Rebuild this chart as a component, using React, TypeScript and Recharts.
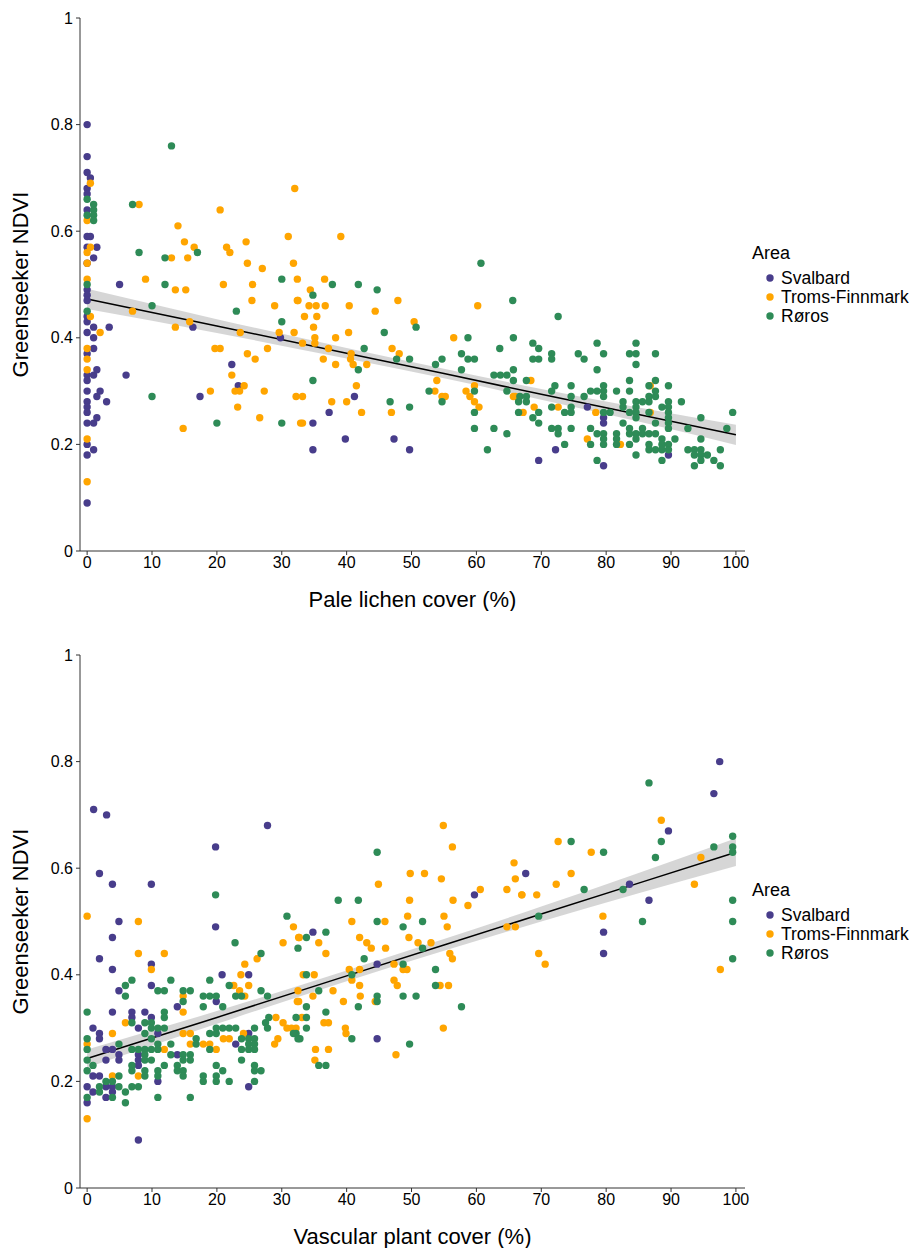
import React from 'react';
import { ComposedChart, Scatter, Area, Line, XAxis, YAxis } from 'recharts';

const FONT = '"Liberation Sans", Arial, Helvetica, sans-serif';

const areaNames = ['Svalbard', 'Troms-Finnmark', 'Røros'];
const areaColors = ['#483D8B', '#FFA500', '#2E8B57'];
const xTicks = [0, 10, 20, 30, 40, 50, 60, 70, 80, 90, 100];
const yTicks = [0, 0.2, 0.4, 0.6, 0.8, 1];

type Pt = [number, number];

// --- Pale lichen cover vs NDVI ---
const lichenSvalbard: Pt[] = [
  [0, 0.8], [0, 0.74], [0, 0.71], [0, 0.68], [0, 0.67], [0, 0.64], [0, 0.59], [0, 0.57], [0, 0.54],
  [0, 0.49], [0, 0.48], [0, 0.47], [0, 0.44], [0, 0.43], [0, 0.41], [0, 0.37], [0, 0.33],
  [0, 0.32], [0, 0.3], [0, 0.28], [0, 0.27], [0, 0.26], [0, 0.24], [0, 0.2], [0, 0.18], [0, 0.09],
  [0.5, 0.7], [0.5, 0.59], [1, 0.55], [1, 0.42], [1, 0.4], [1, 0.38], [1, 0.33], [1, 0.24], [1, 0.19],
  [1.5, 0.57], [1.5, 0.34], [1.5, 0.29], [1.5, 0.25], [2, 0.3], [3, 0.28], [3.4, 0.42], [5, 0.5],
  [6, 0.33], [16.3, 0.42], [17.4, 0.29], [22.3, 0.35], [23.3, 0.31], [29.8, 0.4], [34.8, 0.24],
  [34.8, 0.19], [37.3, 0.26], [39.8, 0.21], [41.2, 0.29], [47.3, 0.21], [49.7, 0.19], [69.6, 0.17],
  [72.2, 0.19], [77.1, 0.27], [79.6, 0.25], [79.6, 0.24], [79.6, 0.16], [89.6, 0.18],
];

const lichenTroms: Pt[] = [
  [0, 0.62], [0, 0.56], [0, 0.54], [0, 0.51], [0, 0.38], [0, 0.36], [0, 0.34], [0, 0.21], [0, 0.13],
  [0.5, 0.69], [0.5, 0.57], [0.5, 0.44], [2, 0.41],
  [8, 0.65], [20.5, 0.64], [14, 0.61], [32, 0.68], [15, 0.58], [16.5, 0.57], [21.5, 0.57], [22, 0.56],
  [24.5, 0.58], [31, 0.59], [13, 0.55], [15.5, 0.55], [24.7, 0.54], [27, 0.53], [31.8, 0.54],
  [9, 0.51], [32.4, 0.51], [21, 0.5], [25.5, 0.5], [13.6, 0.49], [15.2, 0.49], [25.4, 0.47],
  [28.9, 0.46], [32.4, 0.47], [7, 0.45], [15.8, 0.43], [13.6, 0.42], [23.6, 0.41], [29.6, 0.41],
  [31.9, 0.41], [19.7, 0.38], [20.5, 0.38], [24.7, 0.37], [25.9, 0.36], [27.8, 0.38], [22.3, 0.33],
  [24.2, 0.31], [19, 0.3], [22.8, 0.3], [23.5, 0.3], [27.3, 0.3], [32.2, 0.29], [23.2, 0.27],
  [26.6, 0.25], [14.8, 0.23], [32.9, 0.24],
  [39.1, 0.59], [36.6, 0.51], [34.4, 0.49], [32.5, 0.47], [34.2, 0.46], [35.3, 0.46], [36.7, 0.46],
  [40.4, 0.46], [47.9, 0.47], [60.2, 0.46], [33.5, 0.44], [35.4, 0.44], [44.4, 0.45], [34.9, 0.42],
  [50.4, 0.43], [40.3, 0.41],
  [56.5, 0.4], [35.1, 0.4], [38.3, 0.4], [33.2, 0.39], [35.1, 0.39], [47, 0.38], [37.2, 0.38],
  [40.7, 0.37], [48.1, 0.37], [36.4, 0.36], [40.6, 0.36], [38.3, 0.35], [41, 0.35], [43.1, 0.35],
  [53.9, 0.32], [41.5, 0.31], [59.7, 0.31], [53.6, 0.3], [58.4, 0.3], [33.2, 0.29], [54.7, 0.29],
  [55.2, 0.29], [59, 0.29], [65.7, 0.29], [37.7, 0.28], [40, 0.28], [59.7, 0.28], [42.3, 0.26],
  [46.9, 0.26], [60.4, 0.27], [33.2, 0.24],
  [66, 0.29], [68.4, 0.32], [68.9, 0.27], [72.6, 0.27], [67.2, 0.26], [78.4, 0.26], [86.8, 0.31],
  [86.8, 0.26], [77.1, 0.21], [82.2, 0.2],
];

const lichenRoros: Pt[] = [
  [0, 0.66], [0, 0.63], [0, 0.5], [0, 0.45], [1, 0.65], [1, 0.64], [1, 0.63], [1, 0.62],
  [13, 0.76], [7, 0.65], [17, 0.56], [8, 0.56], [12, 0.55], [30, 0.51], [12, 0.5], [10, 0.46],
  [23, 0.45], [30, 0.43], [10, 0.29], [20, 0.24], [30, 0.24],
  [60.7, 0.54], [37.8, 0.5], [41.8, 0.5], [34.8, 0.48], [44.7, 0.49], [65.6, 0.47], [50.7, 0.42],
  [45.8, 0.41], [72.6, 0.44],
  [58.7, 0.4], [65.7, 0.4], [42.7, 0.38], [63.6, 0.38], [57.7, 0.37], [47.7, 0.36], [49.7, 0.36],
  [54.7, 0.36], [58.7, 0.36], [59.7, 0.36], [53.7, 0.35], [41.8, 0.34], [57.7, 0.34], [65.7, 0.34],
  [62.7, 0.33], [63.7, 0.33], [64.7, 0.33], [34.8, 0.32], [65.7, 0.32], [52.7, 0.3], [59.7, 0.3],
  [64.7, 0.3], [46.7, 0.28], [54.7, 0.28], [66.5, 0.28], [49.7, 0.27], [59.7, 0.26], [66.5, 0.26],
  [59.7, 0.23], [62.7, 0.23], [64.7, 0.22], [61.7, 0.19],
  [68.7, 0.39], [69.6, 0.38], [68.7, 0.36], [69.6, 0.36], [71.6, 0.37], [71.6, 0.36], [75.7, 0.37],
  [76.6, 0.36], [78.6, 0.39], [79.6, 0.37], [78.6, 0.34], [84.6, 0.39], [83.6, 0.37], [84.6, 0.37],
  [84.6, 0.35], [87.6, 0.37],
  [67.7, 0.32], [72.1, 0.31], [74.6, 0.31], [79.6, 0.31], [83.6, 0.32], [86.6, 0.31], [87.6, 0.32],
  [89.6, 0.31], [71.6, 0.3], [77.6, 0.3], [78.6, 0.3], [79.6, 0.3], [81.6, 0.3], [83.6, 0.3],
  [87.6, 0.3], [66.7, 0.29], [67.7, 0.29], [74.6, 0.29], [76.6, 0.29], [79.6, 0.29], [86.6, 0.29],
  [87.6, 0.29], [67.7, 0.28], [82.6, 0.28], [84.6, 0.28], [85.6, 0.28], [86.6, 0.28], [89.6, 0.28],
  [91.6, 0.28], [71.6, 0.27], [74.6, 0.27], [82.6, 0.27], [84.6, 0.27], [88.6, 0.27], [89.6, 0.27],
  [69.6, 0.26], [73.6, 0.26], [74.6, 0.26], [79.6, 0.26], [80.6, 0.26], [83.6, 0.26], [84.6, 0.26],
  [86.6, 0.26], [89.6, 0.26], [99.5, 0.26], [68.7, 0.25], [84.6, 0.25], [89.6, 0.25], [94.6, 0.25],
  [69.6, 0.24], [82.6, 0.24], [87.6, 0.24], [89.6, 0.24],
  [71.6, 0.23], [72.6, 0.23], [74.6, 0.23], [77.6, 0.23], [83.6, 0.23], [85.6, 0.23], [89.6, 0.23],
  [92.6, 0.23], [98.6, 0.23], [72.6, 0.22], [78.6, 0.22], [79.6, 0.22], [81.6, 0.22], [83.6, 0.22],
  [84.6, 0.22], [85.6, 0.22], [86.6, 0.22], [87.6, 0.22], [79.6, 0.21], [81.6, 0.21], [84.6, 0.21],
  [88.6, 0.21], [90.6, 0.21], [94.6, 0.21], [73.6, 0.2], [77.6, 0.2], [79.6, 0.2], [81.6, 0.2],
  [83.6, 0.2], [86.6, 0.2], [88.6, 0.2], [89.6, 0.2], [86.6, 0.19], [87.6, 0.19], [88.6, 0.19],
  [89.6, 0.19], [92.6, 0.19], [93.6, 0.19], [94.6, 0.19], [97.6, 0.19], [84.6, 0.18], [93.6, 0.18],
  [94.6, 0.18], [95.6, 0.18], [78.6, 0.17], [88.6, 0.17], [94.6, 0.17], [96.6, 0.17], [93.6, 0.16],
  [97.6, 0.16],
];

const lichenFitX = [0, 20, 40, 55, 70, 85, 100];
const lichenFit = [0.473, 0.422, 0.371, 0.333, 0.294, 0.256, 0.218];
const lichenLow = [0.454, 0.409, 0.361, 0.324, 0.284, 0.243, 0.199];
const lichenHigh = [0.492, 0.435, 0.381, 0.342, 0.304, 0.269, 0.237];

// --- Vascular plant cover vs NDVI ---
const vascSvalbard: Pt[] = [
  [1, 0.71], [3, 0.7], [27.8, 0.68], [19.8, 0.64], [1.9, 0.59], [3.9, 0.57], [9.9, 0.57], [4.9, 0.5],
  [19.8, 0.49], [3.9, 0.47], [1.9, 0.43], [34.8, 0.48], [59.7, 0.55], [97.5, 0.8], [96.6, 0.74],
  [89.6, 0.67], [67.6, 0.59], [83.6, 0.57], [86.6, 0.54], [79.6, 0.48], [79.6, 0.44], [44.7, 0.42],
  [44.7, 0.28],
  [9.9, 0.42], [3.9, 0.41], [20.8, 0.4], [24.9, 0.4], [9.9, 0.38], [4.9, 0.37], [19.9, 0.35],
  [13.9, 0.34], [3.9, 0.33], [6.9, 0.33], [8.9, 0.33], [6.9, 0.32], [9.9, 0.32], [0.9, 0.3],
  [7.9, 0.3], [1.9, 0.29], [10.9, 0.29], [24.9, 0.29], [1.9, 0.28], [22.9, 0.27], [2.9, 0.26],
  [3.9, 0.26], [4.9, 0.25], [7.9, 0.25], [13.9, 0.25], [2.9, 0.24], [4.9, 0.24], [7.9, 0.24],
  [7.9, 0.23], [0.9, 0.21], [1.9, 0.21], [10.9, 0.2], [0, 0.19], [2.9, 0.19], [3.9, 0.19],
  [24.9, 0.19], [0.9, 0.18], [3.9, 0.18], [2.9, 0.17], [0, 0.16], [7.9, 0.09],
];

const vascTroms: Pt[] = [
  [0, 0.51], [7.9, 0.5], [31.8, 0.49], [32.6, 0.47], [30.2, 0.46], [7.9, 0.44], [11.9, 0.44], [26.2, 0.43],
  [54.9, 0.68], [56.3, 0.64], [49.8, 0.59], [52, 0.59], [54.6, 0.58], [44.9, 0.57], [65.8, 0.61],
  [66, 0.58], [64.7, 0.56], [60.6, 0.56], [67, 0.55], [49.7, 0.54], [56.4, 0.54], [58.7, 0.53],
  [49.4, 0.51], [55, 0.51], [40.8, 0.5], [45.9, 0.5], [55.5, 0.49], [32.7, 0.47], [42, 0.47],
  [49.6, 0.47], [35.7, 0.46], [43.1, 0.46], [51, 0.46], [53, 0.46], [43.8, 0.45], [46, 0.45],
  [36.8, 0.44], [55.9, 0.44], [64.7, 0.49], [66, 0.49], [56.3, 0.43],
  [88.5, 0.69], [72.6, 0.65], [94.6, 0.62], [77.7, 0.63], [74.6, 0.59], [72.3, 0.57], [67, 0.55],
  [69.3, 0.55], [93.6, 0.57], [79.5, 0.51], [69.6, 0.44], [70.6, 0.42], [97.6, 0.41],
  [47.3, 0.42], [40.4, 0.41], [42, 0.41], [48.7, 0.41], [49.3, 0.41], [33.3, 0.4], [35, 0.4],
  [40.8, 0.39], [47.3, 0.39], [42, 0.38], [47.8, 0.38], [54.4, 0.38], [55.7, 0.38], [32.5, 0.37],
  [37.9, 0.37], [34.8, 0.36], [42.1, 0.36], [32.6, 0.35], [39.5, 0.35], [44.4, 0.35], [33.1, 0.32],
  [36.5, 0.31], [37.2, 0.31], [39.8, 0.3], [54.9, 0.3], [32.2, 0.3], [39.9, 0.29], [35.2, 0.26],
  [37.2, 0.26], [47.6, 0.25], [35.1, 0.24],
  [24.3, 0.42], [9.9, 0.41], [23.7, 0.4], [22.6, 0.38], [24.9, 0.38], [23.5, 0.37], [14.8, 0.36],
  [24.3, 0.36], [32.4, 0.35], [14.8, 0.33], [29.1, 0.32], [5.9, 0.31], [30.2, 0.31], [30.8, 0.3],
  [31.5, 0.3], [3.9, 0.29], [14.8, 0.29], [15.9, 0.29], [24.1, 0.29], [21, 0.28], [21.9, 0.28],
  [29.4, 0.28], [0, 0.27], [15.9, 0.27], [17.9, 0.27], [18.9, 0.27], [28.9, 0.27], [11.9, 0.26],
  [19.9, 0.26], [3.9, 0.21], [7.9, 0.21], [0, 0.13],
];

const vascRoros: Pt[] = [
  [19.8, 0.55], [30.8, 0.51], [22.8, 0.46], [32.5, 0.45], [26.8, 0.44],
  [44.7, 0.63], [38.7, 0.54], [41.8, 0.54], [44.7, 0.5], [51.7, 0.5], [48.7, 0.49], [33.8, 0.47],
  [36.8, 0.48], [51.7, 0.45], [42.7, 0.43],
  [86.6, 0.76], [88.5, 0.65], [74.6, 0.65], [99.5, 0.66], [87.6, 0.62], [96.6, 0.64], [99.5, 0.64],
  [99.5, 0.63], [79.6, 0.63], [76.6, 0.56], [82.6, 0.56], [99.5, 0.54], [69.6, 0.51], [85.6, 0.5],
  [99.5, 0.5], [99.5, 0.43],
  [48.7, 0.42], [53.7, 0.41], [33.8, 0.4], [40.8, 0.4], [53.7, 0.38], [35.7, 0.37], [44.7, 0.36],
  [48.7, 0.36], [50.7, 0.36], [44.7, 0.35], [33.8, 0.34], [41.8, 0.34], [57.7, 0.34], [36.8, 0.33],
  [33.8, 0.32], [32.2, 0.32], [33.8, 0.3], [32.2, 0.29], [32.8, 0.28], [40.8, 0.28], [49.7, 0.27],
  [35.7, 0.23], [36.8, 0.23],
  [6.9, 0.39], [12.9, 0.39], [18.9, 0.39], [5.9, 0.38], [21.9, 0.38], [10.9, 0.37], [11.9, 0.37],
  [14.8, 0.37], [15.9, 0.37], [26.8, 0.37], [5.9, 0.36], [17.9, 0.36], [18.9, 0.36], [19.9, 0.36],
  [22.9, 0.36], [23.8, 0.36], [27.8, 0.36], [14.8, 0.35], [17.9, 0.34], [20.9, 0.34], [0, 0.33],
  [11.9, 0.33], [11.9, 0.32], [28, 0.32], [6.9, 0.31], [8.9, 0.31], [9.9, 0.31], [27.5, 0.31],
  [9.9, 0.3], [10.9, 0.3], [11.9, 0.3], [19.9, 0.3], [20.9, 0.3], [21.9, 0.3], [22.9, 0.3],
  [25.8, 0.3], [27.8, 0.3], [8.9, 0.29], [18.9, 0.29], [19.9, 0.29], [31.8, 0.29], [0, 0.28],
  [9.9, 0.28], [16.8, 0.28], [23.8, 0.28], [24.9, 0.28], [25.8, 0.28], [32.5, 0.28], [4.9, 0.27],
  [10.9, 0.27], [12.9, 0.27], [16.8, 0.27], [24.9, 0.27], [25.8, 0.27], [0, 0.26], [6.9, 0.26],
  [7.9, 0.26], [8.9, 0.26], [9.9, 0.26], [10.9, 0.26], [18.9, 0.26], [23.8, 0.26], [24.9, 0.26],
  [25.8, 0.26], [8.9, 0.25], [12.9, 0.25], [14.8, 0.25], [15.9, 0.25], [0, 0.24], [8.9, 0.24],
  [9.9, 0.24], [14.8, 0.24], [15.9, 0.24], [23.8, 0.24], [0.9, 0.23], [6.9, 0.23], [11.9, 0.23],
  [13.9, 0.23], [19.9, 0.23], [25.8, 0.23], [0, 0.22], [6.9, 0.22], [8.9, 0.22], [10.9, 0.22],
  [13.9, 0.22], [14.8, 0.22], [20.9, 0.22], [25.8, 0.22], [26.8, 0.22], [4.9, 0.21], [8.9, 0.21],
  [10.9, 0.21], [14.8, 0.21], [17.9, 0.21], [19.9, 0.21], [2.9, 0.2], [3.9, 0.2], [17.9, 0.2],
  [19.9, 0.2], [21.9, 0.2], [25.8, 0.2], [1.9, 0.19], [4.9, 0.19], [6.9, 0.19], [7.9, 0.19],
  [1.9, 0.18], [5.9, 0.18], [0, 0.17], [3.9, 0.17], [10.9, 0.17], [15.9, 0.17], [5.9, 0.16],
];

const vascFitX = [0, 20, 40, 55, 70, 85, 100];
const vascFit = [0.243, 0.32, 0.398, 0.456, 0.514, 0.572, 0.63];
const vascLow = [0.226, 0.308, 0.388, 0.445, 0.5, 0.553, 0.604];
const vascHigh = [0.26, 0.332, 0.408, 0.467, 0.528, 0.591, 0.656];

const Dot = (color: string) => (props: any) => {
  const { cx, cy } = props;
  if (cx == null || cy == null) return <g />;
  return <circle cx={cx} cy={cy} r={3.7} fill={color} />;
};

interface PanelProps {
  top: number;
  xTitle: string;
  groups: Pt[][];
  fitX: number[];
  fit: number[];
  low: number[];
  high: number[];
}

const Panel = ({ top, xTitle, groups, fitX, fit, low, high }: PanelProps) => {
  const smooth = fitX.map((x, i) => ({ x, fit: fit[i], band: [low[i], high[i]] }));
  const tickStyle = { fontSize: 16, fill: '#000', fontFamily: FONT };

  return (
    <div style={{ position: 'absolute', left: 0, top, width: 909, height: 611 }}>
      <ComposedChart width={909} height={611} data={smooth} margin={{ top: 18, right: 164, bottom: 0, left: 0 }}>
        <XAxis
          dataKey="x"
          type="number"
          domain={[-1.1, 101.4]}
          ticks={xTicks}
          allowDataOverflow
          height={60}
          tickSize={4}
          tickMargin={2}
          tick={tickStyle}
          axisLine={{ stroke: '#333' }}
          tickLine={{ stroke: '#333' }}
          label={{ value: xTitle, position: 'insideBottom', offset: 4, fontSize: 22, fill: '#000', fontFamily: FONT }}
        />
        <YAxis
          type="number"
          domain={[0, 1]}
          ticks={yTicks}
          width={80}
          tickSize={4}
          tickMargin={3}
          tick={tickStyle}
          axisLine={{ stroke: '#333' }}
          tickLine={{ stroke: '#333' }}
          label={{
            content: (p: any) => {
              const vb = p.viewBox || { x: 0, y: 18, height: 533 };
              const cx = vb.x + 20;
              const cy = vb.y + vb.height / 2;
              return (
                <text
                  x={cx}
                  y={cy}
                  transform={`rotate(-90 ${cx} ${cy})`}
                  textAnchor="middle"
                  dominantBaseline="central"
                  fontSize={22}
                  fontFamily={FONT}
                  fill="#000"
                >
                  Greenseeker NDVI
                </text>
              );
            },
          }}
        />
        {groups.map((g, i) => (
          <Scatter
            key={areaNames[i]}
            name={areaNames[i]}
            data={g.map(([x, y]) => ({ x, y }))}
            dataKey="y"
            fill={areaColors[i]}
            shape={Dot(areaColors[i])}
            isAnimationActive={false}
          />
        ))}
        <Area dataKey="band" type="monotone" stroke="none" fill="#999999" fillOpacity={0.4} isAnimationActive={false} />
        <Line dataKey="fit" type="linear" stroke="#000" strokeWidth={1.5} dot={false} isAnimationActive={false} />
      </ComposedChart>
      <svg style={{ position: 'absolute', left: 740, top: 235 }} width={169} height={95}>
        <text x={12} y={18} fontSize={18} fontFamily={FONT} fill="#000" dominantBaseline="central">
          Area
        </text>
        {areaNames.map((n, i) => (
          <g key={n}>
            <circle cx={30} cy={43 + i * 19} r={3.7} fill={areaColors[i]} />
            <text x={41} y={43 + i * 19} fontSize={17.5} fontFamily={FONT} fill="#000" dominantBaseline="central">
              {n}
            </text>
          </g>
        ))}
      </svg>
    </div>
  );
};

export default function App() {
  return (
    <div style={{ position: 'absolute', left: 0, top: 0, width: 909, height: 1250, background: '#fff' }}>
      <Panel
        top={0}
        xTitle="Pale lichen cover (%)"
        groups={[lichenSvalbard, lichenTroms, lichenRoros]}
        fitX={lichenFitX}
        fit={lichenFit}
        low={lichenLow}
        high={lichenHigh}
      />
      <Panel
        top={637}
        xTitle="Vascular plant cover (%)"
        groups={[vascSvalbard, vascTroms, vascRoros]}
        fitX={vascFitX}
        fit={vascFit}
        low={vascLow}
        high={vascHigh}
      />
    </div>
  );
}
